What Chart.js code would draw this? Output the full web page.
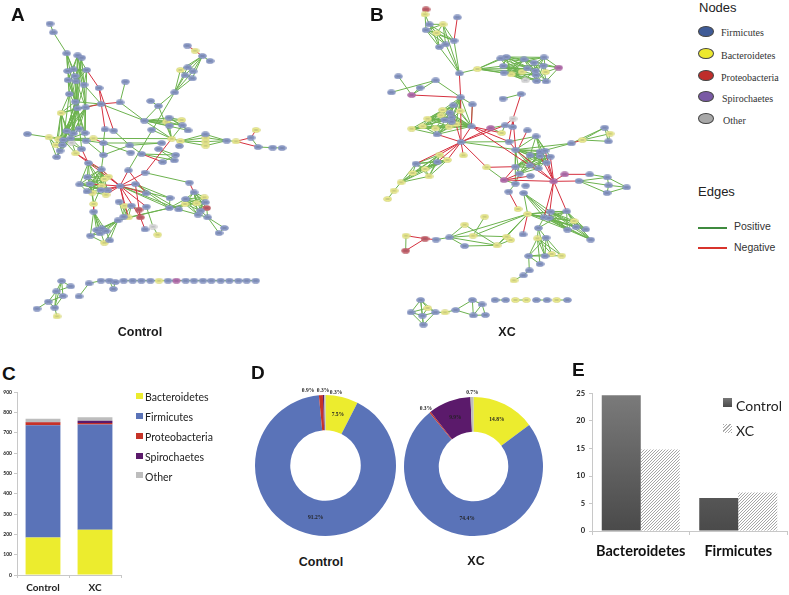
<!DOCTYPE html>
<html>
<head>
<meta charset="utf-8">
<title>Control vs XC</title>
<script src="https://cdn.jsdelivr.net/npm/chart.js@4"></script>
<style>
    html, body { margin: 0; padding: 0; background: #fff; overflow: hidden; }
    body { position: relative; width: 789px; height: 595px; }
    canvas, .txt, .sw { position: absolute; }
    .net { filter: blur(0.3px); }
    .txt { white-space: nowrap; color: #1a1a1a; line-height: 1; }
    .letter { font: bold 19px "Liberation Sans"; color: #111; }
    .title { font: bold 12.5px "Liberation Sans"; transform: translateX(-50%); }
    .head { font: 13px "Liberation Sans"; color: #222; }
    .serif { font: 10px "Liberation Serif"; color: #333; }
    .edge { font: 10.5px "Liberation Sans"; color: #333; }
    .leg { font: 10.5px Lato; color: #222; }
    .node { width: 16px; height: 11px; border-radius: 50%; border: 1px solid #444; box-sizing: border-box; }
</style>
</head>
<body>
<canvas class="net" id="net-a" width="300" height="345" style="left:0;top:0"></canvas>
<canvas class="net" id="net-b" width="280" height="345" style="left:370px;top:0"></canvas>
<canvas id="stack-chart" width="125" height="210" style="left:0;top:385px"></canvas>
<canvas id="donut-control" width="165" height="165" style="left:243px;top:383px"></canvas>
<canvas id="donut-xc" width="163" height="163" style="left:392px;top:385px"></canvas>
<canvas id="bar-chart" width="224" height="175" style="left:565px;top:385px"></canvas>

<div class="txt letter" style="left:11px;top:4px">A</div>
<div class="txt letter" style="left:370px;top:4px">B</div>
<div class="txt letter" style="left:2px;top:363px">C</div>
<div class="txt letter" style="left:251px;top:362px">D</div>
<div class="txt letter" style="left:572px;top:359px">E</div>
<div class="txt title" style="left:140px;top:325px">Control</div>
<div class="txt title" style="left:507px;top:325px">XC</div>
<div class="txt title" style="left:321px;top:555px">Control</div>
<div class="txt title" style="left:476px;top:554px">XC</div>

<div class="txt head" style="left:699px;top:0px">Nodes</div>
<div class="sw node" style="left:698px;top:26px;background:#3f5b97"></div>
<div class="txt serif" style="left:721px;top:27px">Firmicutes</div>
<div class="sw node" style="left:698px;top:48px;background:#ece82f"></div>
<div class="txt serif" style="left:721px;top:50px">Bacteroidetes</div>
<div class="sw node" style="left:698px;top:70px;background:#bf2e2b"></div>
<div class="txt serif" style="left:721px;top:72px">Proteobacteria</div>
<div class="sw node" style="left:698px;top:91px;background:#7a5aa5"></div>
<div class="txt serif" style="left:722px;top:93px">Spirochaetes</div>
<div class="sw node" style="left:698px;top:113px;background:#a8a8a8"></div>
<div class="txt serif" style="left:723px;top:115px">Other</div>
<div class="txt head" style="left:698px;top:184px">Edges</div>
<div class="sw" style="left:698px;top:227px;width:29px;height:1.5px;background:#3f8a3f"></div>
<div class="txt edge" style="left:734px;top:220px">Positive</div>
<div class="sw" style="left:698px;top:247px;width:29px;height:1.5px;background:#d8342c"></div>
<div class="txt edge" style="left:734px;top:241px">Negative</div>

<div class="sw" style="left:136px;top:393px;width:7px;height:6px;background:#ecec2e"></div>
<div class="txt leg" style="left:145px;top:391px">Bacteroidetes</div>
<div class="sw" style="left:136px;top:413px;width:7px;height:6px;background:#5a73b8"></div>
<div class="txt leg" style="left:145px;top:411px">Firmicutes</div>
<div class="sw" style="left:136px;top:433px;width:7px;height:6px;background:#c63328"></div>
<div class="txt leg" style="left:145px;top:431px">Proteobacteria</div>
<div class="sw" style="left:136px;top:453px;width:7px;height:6px;background:#5b1a6b"></div>
<div class="txt leg" style="left:145px;top:451px">Spirochaetes</div>
<div class="sw" style="left:136px;top:472px;width:7px;height:6px;background:#bdbdbd"></div>
<div class="txt leg" style="left:145px;top:471px">Other</div>

<div class="sw" style="left:723px;top:398px;width:9px;height:9px;background:linear-gradient(#777,#4a4a4a)"></div>
<div class="txt leg" style="left:736px;top:397px;font-size:14px">Control</div>
<div class="sw" style="left:723px;top:424px;width:9px;height:9px;background:repeating-linear-gradient(135deg,#aaa 0 1px,#fff 1px 2.4px)"></div>
<div class="txt leg" style="left:736px;top:422px;font-size:14px">XC</div>

<script>
// network A (values are x,y pairs on a 900 x 1035 grid)
const aFirmicutes = [150,71, 160,97, 200,160, 233,166, 245,173, 203,213, 220,208, 260,210, 225,228, 204,240, 228,244, 252,254, 297,264, 376,245, 208,282, 226,305, 303,312, 360,307, 232,325, 257,322, 452,303, 475,318, 562,137, 607,168, 630,183, 563,202, 579,214, 555,226, 577,235, 524,277, 433,362, 507,353, 508,377, 547,376, 564,391, 455,389, 315,388, 341,392, 237,386, 200,393, 220,400, 255,399, 82,402, 212,415, 190,420, 258,422, 187,435, 245,447, 180,452, 170,471, 310,429, 310,465, 389,436, 392,458, 425,462, 485,429, 476,447, 538,438, 527,465, 523,481, 488,486, 616,403, 680,422, 753,413, 774,441, 818,443, 846,444, 265,489, 304,508, 385,511, 435,518, 262,531, 239,553, 270,552, 261,574, 303,570, 323,571, 360,558, 406,552, 568,548, 582,577, 438,580, 510,594, 557,597, 508,624, 536,628, 357,605, 394,617, 439,620, 616,607, 602,632, 594,644, 623,652, 281,635, 354,661, 371,650, 435,688, 673,684, 657,699, 290,690, 305,685, 318,693, 300,700, 271,707, 329,721, 185,843, 212,859, 169,874, 189,888, 145,905, 164,923, 111,926, 267,850, 237,889, 303,842, 328,842, 346,846, 340,867, 371,842, 398,842, 424,842, 451,842, 504,842, 557,842, 582,842, 609,842, 634,842, 662,842, 688,842, 715,842, 740,842, 767,842];
const aBacteroidetes = [585,152, 541,210, 183,339, 499,365, 545,360, 147,412, 515,416, 541,423, 617,413, 617,425, 617,437, 708,424, 768,390, 280,415, 175,418, 168,435, 227,460, 325,530, 313,537, 305,557, 277,578, 318,584, 281,612, 373,617, 385,652, 613,592, 590,610, 555,612, 473,704, 313,728, 477,842, 171,949];
const aProteobacteria = [417,629, 421,652, 620,624];
const aSpirochaetes = [529,842];
const aOther = [459,680, 215,428];
// each row is a hub followed by the nodes it links to
const aPositive = [
    [150,71, 160,97], [160,97, 200,160],
    [232,325, 200,160, 233,166, 245,173, 203,213, 220,208, 225,228, 204,240, 228,244, 252,254, 208,282, 226,305, 183,339, 200,393, 220,400, 237,386, 255,399, 212,415, 190,420, 187,435, 258,422, 245,447, 180,452, 170,471, 168,435, 175,418],
    [257,322, 260,210, 233,166, 228,244, 252,254, 183,339, 200,393, 220,400, 212,415, 237,386, 190,420, 255,399],
    [226,305, 203,213, 204,240, 245,173, 183,339, 200,393, 220,400, 190,420, 187,435, 212,415],
    [208,282, 200,160, 204,240, 183,339, 190,420, 220,400],
    [183,339, 190,420, 200,393, 212,415, 175,418, 187,435, 168,435],
    [212,415, 147,412, 175,418, 168,435, 170,471, 180,452, 187,435, 227,460, 245,447, 200,393, 220,400, 255,399, 237,386, 258,422, 280,415, 190,420],
    [190,420, 147,412, 168,435, 170,471, 180,452, 227,460, 245,447, 258,422, 280,415],
    [147,412, 82,402, 168,435, 170,471, 180,452],
    [233,166, 220,208, 245,173, 228,244, 252,254, 204,240, 260,210],
    [245,173, 252,254, 228,244], [200,160, 220,208, 225,228, 203,213],
    [260,210, 228,244, 252,254, 220,208, 203,213],
    [303,312, 226,305, 232,325, 252,254, 433,362],
    [360,307, 376,245, 433,362],
    [315,388, 310,429], [341,392, 389,436], [310,429, 310,465, 392,458, 258,422, 485,429],
    [310,465, 304,508, 389,436, 258,422],
    [389,436, 425,462, 485,429], [425,462, 527,465, 523,481], [476,447, 527,465, 523,481], [488,486, 527,465],
    [280,415, 515,416],
    [524,277, 385,511, 475,318, 541,210, 563,202, 579,214, 555,226, 577,235],
    [452,303, 475,318], [475,318, 433,362, 515,416],
    [607,168, 541,210, 563,202, 579,214, 555,226, 577,235, 630,183],
    [541,210, 555,226, 577,235],
    [433,362, 507,353, 499,365, 545,360, 508,377, 547,376, 564,391],
    [507,353, 545,360, 547,376, 564,391, 508,377, 499,365],
    [499,365, 515,416, 508,377, 547,376],
    [515,416, 455,389, 433,362, 508,377, 547,376, 541,423],
    [547,376, 564,391],
    [541,423, 616,403, 617,413, 617,425, 617,437, 538,438],
    [680,422, 616,403, 617,413, 617,425, 617,437, 708,424],
    [753,413, 774,441], [774,441, 818,443], [818,443, 846,444],
    [435,518, 568,548],
    [360,558, 510,594, 508,624, 536,628],
    [406,552, 508,624, 536,628, 510,594],
    [439,620, 459,680], [459,680, 473,704], [510,594, 508,624],
    [508,624, 557,597, 555,612, 590,610, 354,661, 385,652],
    [265,489, 304,508, 262,531, 270,552, 239,553, 303,570, 323,571],
    [304,508, 262,531, 270,552, 239,553, 261,574, 303,570, 323,571, 277,578, 318,584, 325,530, 313,537, 305,557],
    [262,531, 303,570, 305,557, 313,537, 325,530, 277,578],
    [239,553, 305,557, 303,570, 261,574, 323,571, 313,537],
    [270,552, 318,584, 303,570, 313,537, 277,578, 281,612],
    [261,574, 318,584, 313,537, 305,557, 323,571],
    [281,612, 277,578, 305,557],
    [281,635, 271,707, 290,690, 300,700, 305,685, 318,693, 313,728],
    [354,661, 271,707, 290,690, 305,685, 300,700, 318,693, 313,728, 329,721],
    [271,707, 313,728, 300,700], [329,721, 313,728, 318,693], [290,690, 318,693], [305,685, 300,700],
    [582,577, 557,597, 555,612, 590,610, 613,592, 616,607, 602,632, 594,644, 620,624],
    [557,597, 613,592, 616,607, 590,610, 602,632, 594,644, 620,624, 555,612],
    [555,612, 613,592, 616,607, 594,644, 602,632, 590,610],
    [536,628, 555,612, 557,597, 594,644],
    [613,592, 602,632, 594,644, 590,610],
    [623,652, 594,644, 602,632, 657,699, 673,684, 620,624], [657,699, 673,684],
    [357,605, 373,617, 385,652, 371,650], [373,617, 385,652, 371,650], [394,617, 385,652, 371,650, 417,629],
    [185,843, 169,874, 189,888, 164,923, 212,859],
    [169,874, 145,905, 189,888, 164,923, 212,859],
    [145,905, 111,926, 189,888, 164,923], [164,923, 171,949, 189,888],
    [237,889, 267,850], [267,850, 303,842], [303,842, 328,842], [328,842, 346,846, 340,867], [346,846, 340,867],
    [398,842, 371,842, 424,842], [451,842, 424,842, 477,842], [504,842, 477,842, 529,842], [557,842, 529,842, 582,842],
    [609,842, 582,842, 634,842], [662,842, 634,842, 688,842], [715,842, 688,842, 740,842], [767,842, 740,842]
];
const aNegative = [
    [297,264, 260,210, 315,388, 341,392],
    [303,312, 257,322, 360,307],
    [585,152, 562,137, 607,168],
    [708,424, 753,413, 774,441], [753,413, 768,390],
    [435,518, 515,416, 360,558],
    [280,415, 310,429], [245,447, 265,489], [425,462, 488,486],
    [568,548, 582,577], [385,511, 360,558, 438,580],
    [227,460, 304,508, 360,558],
    [360,558, 304,508, 406,552, 438,580, 373,617, 385,652, 421,652, 439,620, 323,571, 303,570, 318,584, 325,530, 270,552],
    [421,652, 435,688, 417,629, 406,552],
    [281,612, 281,635]
];

// network B (x,y pairs on an 840 x 1035 grid)
const bFirmicutes = [262,52, 178,73, 168,90, 252,122, 227,133, 208,141, 268,220, 409,171, 392,175, 462,178, 522,172, 400,198, 492,188, 520,197, 472,205, 402,218, 496,212, 498,225, 528,244, 500,243, 85,229, 197,241, 150,263, 64,277, 272,292, 307,313, 250,316, 240,338, 245,352, 224,360, 245,365, 304,379, 201,403, 399,296, 453,282, 405,376, 428,381, 472,391, 498,409, 417,425, 437,449, 273,426, 604,430, 704,383, 715,424, 480,466, 510,455, 525,452, 510,468, 541,470, 530,488, 480,496, 505,505, 436,500, 448,521, 481,528, 467,557, 436,551, 416,575, 138,491, 202,486, 659,523, 712,532, 627,543, 716,556, 770,562, 711,579, 461,579, 542,635, 590,634, 522,652, 537,654, 505,684, 592,689, 618,681, 647,688, 662,719, 459,703, 528,713, 476,768, 525,768, 510,792, 478,811, 460,826, 198,719, 238,712, 284,738, 152,900, 123,937, 157,947, 196,937, 160,974, 257,930, 307,900, 336,913, 310,946, 346,945, 375,900, 407,900, 499,900, 531,900, 592,900];
const bBacteroidetes = [165,43, 219,73, 200,99, 322,207, 424,223, 456,215, 527,216, 218,330, 213,346, 270,333, 173,356, 158,379, 125,386, 196,385, 237,380, 258,372, 209,464, 280,466, 232,480, 165,507, 128,519, 177,529, 93,547, 72,572, 53,597, 350,502, 395,399, 637,420, 720,401, 444,627, 344,650, 473,642, 612,663, 284,674, 309,707, 108,707, 410,710, 422,720, 381,736, 502,715, 545,762, 575,767, 432,841, 173,924, 225,937, 436,900, 469,900, 560,900];
const bProteobacteria = [168,28, 165,716, 107,752];
const bSpirochaetes = [566,203, 125,285, 362,384, 402,540, 584,523, 551,544];
const bOther = [466,241, 429,356];
const bPositive = [
    [178,73, 165,43, 219,73, 200,99, 252,122, 227,133, 208,141],
    [168,90, 165,43, 219,73, 200,99, 227,133, 208,141, 252,122],
    [219,73, 252,122, 227,133, 200,99, 268,220],
    [268,220, 252,122, 208,141, 227,133, 322,207],
    [200,99, 227,133, 252,122, 208,141],
    [322,207, 392,175, 409,171, 400,198, 402,218, 424,223, 472,205, 456,215],
    [409,171, 462,178, 522,172, 492,188, 472,205, 424,223, 456,215, 496,212, 400,198],
    [462,178, 402,218, 424,223, 500,243, 528,244, 496,212, 522,172, 566,203],
    [522,172, 566,203, 400,198, 527,216, 466,241, 472,205, 498,225],
    [566,203, 520,197, 527,216, 528,244],
    [400,198, 496,212, 456,215, 498,225, 520,197, 466,241, 500,243],
    [402,218, 456,215, 472,205, 498,225, 466,241, 528,244],
    [392,175, 424,223, 456,215, 492,188, 472,205],
    [424,223, 466,241, 500,243, 498,225, 520,197],
    [500,243, 527,216, 520,197, 492,188], [528,244, 492,188, 520,197],
    [197,241, 125,285, 64,277, 272,292], [125,285, 85,229, 150,263],
    [272,292, 250,316, 240,338, 245,352, 245,365, 224,360, 304,379, 307,313, 258,372, 270,333, 218,330],
    [304,379, 250,316, 240,338, 245,352, 224,360, 245,365, 270,333, 218,330, 213,346, 258,372, 237,380, 201,403, 196,385, 173,356, 158,379, 125,386, 307,313],
    [250,316, 173,356, 158,379, 196,385, 213,346, 237,380, 201,403, 125,386],
    [173,356, 240,338, 245,352, 245,365, 224,360, 196,385, 237,380, 201,403, 158,379, 218,330],
    [125,386, 158,379, 196,385, 201,403, 224,360, 258,372, 237,380],
    [158,379, 201,403, 218,330, 240,338, 224,360],
    [201,403, 237,380, 258,372, 270,333, 245,365],
    [273,426, 437,449, 417,425],
    [362,384, 405,376, 395,399], [405,376, 395,399, 428,381], [399,296, 453,282],
    [437,449, 498,409, 604,430, 510,455, 525,452, 480,466, 510,468, 541,470, 480,496, 436,500, 448,521, 505,505, 530,488],
    [417,425, 498,409],
    [604,430, 510,455, 704,383], [637,420, 704,383, 720,401, 715,424], [704,383, 720,401, 715,424], [720,401, 715,424],
    [498,409, 510,455, 525,452, 541,470, 530,488, 480,466],
    [436,500, 480,466, 510,455, 525,452, 510,468, 541,470, 480,496, 505,505, 448,521],
    [448,521, 480,466, 510,468, 525,452, 480,496, 505,505, 541,470],
    [480,466, 541,470, 530,488, 525,452],
    [480,496, 510,455, 525,452, 541,470, 530,488, 505,505],
    [505,505, 510,455, 525,452, 541,470],
    [350,502, 402,540], [436,551, 402,540, 416,575, 436,500, 448,521],
    [627,543, 712,532, 716,556, 711,579], [659,523, 712,532], [712,532, 770,562, 716,556], [716,556, 770,562, 711,579], [711,579, 770,562],
    [209,464, 138,491, 165,507, 128,519, 177,529, 93,547, 202,486, 232,480],
    [138,491, 202,486, 165,507, 128,519, 177,529, 232,480, 93,547],
    [202,486, 93,547, 128,519, 165,507, 177,529, 232,480],
    [232,480, 177,529, 165,507, 128,519, 93,547],
    [93,547, 177,529, 72,572, 128,519], [72,572, 53,597], [165,507, 177,529, 128,519],
    [461,579, 522,652, 537,654, 542,635, 473,642, 592,689],
    [473,642, 522,652, 537,654, 542,635, 590,634, 592,689, 618,681, 612,663, 238,712, 309,707, 381,736, 410,710],
    [542,635, 590,634, 592,689, 618,681, 647,688, 662,719, 612,663],
    [590,634, 612,663, 618,681, 647,688, 592,689, 522,652, 537,654, 505,684, 662,719],
    [522,652, 592,689, 618,681, 662,719, 647,688, 505,684],
    [537,654, 618,681, 662,719, 592,689, 612,663],
    [612,663, 662,719, 647,688, 592,689], [618,681, 662,719, 647,688], [592,689, 662,719],
    [505,684, 502,715, 528,713, 525,768],
    [502,715, 476,768, 525,768, 545,762, 575,767, 510,792, 528,713],
    [528,713, 476,768, 525,768, 545,762, 575,767],
    [476,768, 545,762, 525,768, 478,811, 510,792], [525,768, 575,767, 545,762], [478,811, 460,826], [460,826, 432,841],
    [238,712, 198,719, 284,674, 284,738, 309,707, 381,736], [284,674, 381,736], [344,650, 309,707], [309,707, 410,710], [284,738, 381,736],
    [381,736, 410,710, 422,720], [422,720, 410,710], [108,707, 107,752],
    [152,900, 123,937, 157,947, 196,937, 173,924, 160,974],
    [123,937, 157,947, 160,974, 173,924], [157,947, 196,937, 160,974, 173,924], [196,937, 160,974, 173,924, 225,937], [225,937, 257,930],
    [257,930, 307,900, 310,946], [307,900, 336,913, 310,946], [336,913, 310,946, 346,945], [310,946, 346,945],
    [375,900, 407,900], [436,900, 469,900], [499,900, 531,900], [560,900, 592,900]
];
const bNegative = [
    [262,52, 252,122], [272,292, 125,285, 268,220, 273,426], [307,313, 304,379],
    [273,426, 304,379, 201,403, 280,466, 209,464, 232,480, 202,486, 138,491, 350,502, 250,345, 362,384, 405,376],
    [304,379, 551,544, 395,399, 417,425],
    [453,282, 429,356], [429,356, 428,381, 417,425, 437,449, 405,376], [472,391, 448,440],
    [551,544, 437,449, 584,523, 627,543, 530,488, 541,470, 522,652, 537,654, 590,634, 525,452, 510,468],
    [584,523, 659,523], [402,540, 551,544, 436,500, 448,521, 481,528], [350,502, 436,500], [416,575, 444,627],
    [473,642, 459,703], [168,28, 165,43], [165,716, 108,707, 107,752, 198,719], [604,430, 637,420], [417,425, 437,449]
];

// panel C
const stackCategories = ["Control", "XC"];
const stackBacteroidetes = [185, 222];
const stackFirmicutes = [552, 518];
const stackProteobacteria = [14, 8];
const stackSpirochaetes = [2, 10];
const stackOther = [15, 18];
const stackTicks = [0, 100, 200, 300, 400, 500, 600, 700, 800, 900];

// panel D
const donutControlValues = [7.5, 91.2, 0.9, 0.3, 0.3];
const donutXcValues = [14.8, 74.4, 0.3, 9.9, 0.7];
const donutControlLabels = ["7.5%", "91.2%", "0.9%", "0.3%", "0.3%"];
const donutXcLabels = ["14.8%", "74.4%", "0.3%", "9.9%", "0.7%"];

// panel E
const barCategories = ["Bacteroidetes", "Firmicutes"];
const barControl = [24.7, 6];
const barXc = [14.8, 7];

const phylumColors = ["#ecec2e", "#5a73b8", "#c63328", "#5b1a6b", "#bdbdbd"];

const toPoints = (flat) => {
    const points = [];
    for (let i = 0; i < flat.length; i += 2) {
        points.push({ x: flat[i], y: flat[i + 1] });
    }
    return points;
};

// hub + leaves rows into one line with gaps between the edges
const edgePoints = (rows) => {
    const points = [];
    rows.forEach((row) => {
        for (let i = 2; i < row.length; i += 2) {
            points.push({ x: row[0], y: row[1] }, { x: row[i], y: row[i + 1] }, { x: null, y: null });
        }
    });
    return points;
};

const nodeSprite = (fill, edge) => {
    const sprite = document.createElement("canvas");
    sprite.width = 9;
    sprite.height = 6;
    const ctx = sprite.getContext("2d");
    ctx.fillStyle = fill;
    ctx.strokeStyle = edge;
    ctx.lineWidth = 0.5;
    ctx.beginPath();
    ctx.ellipse(4.5, 3, 4, 2.6, 0, 0, Math.PI * 2);
    ctx.fill();
    ctx.stroke();
    ctx.fillStyle = "rgba(40, 50, 70, .35)";
    ctx.fillRect(2.5, 2.5, 4, 1);
    return sprite;
};

const createNetwork = (id, gridWidth, nodes, positive, negative) => {
    const nodeSet = (data, fill, edge) => ({
        data: toPoints(data),
        pointStyle: nodeSprite(fill, edge),
        pointRadius: 4,
        showLine: false,
        order: 0
    });
    new Chart(document.getElementById(id), {
        type: "scatter",
        data: {
            datasets: [
                nodeSet(nodes[0], "#8d9cc8", "#7886b2"),
                nodeSet(nodes[1], "#ecec8e", "#c9c97a"),
                nodeSet(nodes[2], "#c9616b", "#a85a60"),
                nodeSet(nodes[3], "#b871b0", "#9c6296"),
                nodeSet(nodes[4], "#dedede", "#bbbbbb"),
                {
                    data: edgePoints(negative),
                    showLine: true,
                    borderColor: "#d5303f",
                    borderWidth: 1,
                    pointRadius: 0,
                    order: 1
                },
                {
                    data: edgePoints(positive),
                    showLine: true,
                    borderColor: "#6cb24e",
                    borderWidth: 1,
                    pointRadius: 0,
                    order: 2
                }
            ]
        },
        options: {
            responsive: false,
            animation: false,
            layout: { padding: 0, autoPadding: false },
            plugins: { legend: { display: false }, tooltip: { enabled: false } },
            scales: {
                x: { display: false, min: 0, max: gridWidth },
                y: { display: false, min: 0, max: 1035, reverse: true }
            }
        }
    });
};

const createStackChart = () => {
    const stackSet = (label, data, color) => ({ label, data, backgroundColor: color, stack: "all" });
    new Chart(document.getElementById("stack-chart"), {
        type: "bar",
        data: {
            labels: stackCategories,
            datasets: [
                stackSet("Bacteroidetes", stackBacteroidetes, phylumColors[0]),
                stackSet("Firmicutes", stackFirmicutes, phylumColors[1]),
                stackSet("Proteobacteria", stackProteobacteria, phylumColors[2]),
                stackSet("Spirochaetes", stackSpirochaetes, phylumColors[3]),
                stackSet("Other", stackOther, phylumColors[4])
            ]
        },
        options: {
            responsive: false,
            animation: false,
            layout: { padding: { top: 7, right: 4 } },
            plugins: { legend: { display: false }, tooltip: { enabled: false } },
            datasets: { bar: { barPercentage: 1, categoryPercentage: 0.67 } },
            scales: {
                x: {
                    stacked: true,
                    afterFit: (scale) => { scale.height = 20; },
                    grid: { offset: true, drawOnChartArea: false, tickLength: 3, color: "#c8c8c8" },
                    border: { color: "#c8c8c8" },
                    ticks: { color: "#222", padding: 4, maxRotation: 0, font: { family: "Lato", weight: "bold", size: 10 } }
                },
                y: {
                    stacked: true,
                    min: 0,
                    max: 900,
                    afterFit: (scale) => { scale.width = 17; },
                    afterBuildTicks: (scale) => { scale.ticks = stackTicks.map((value) => ({ value })); },
                    grid: { drawOnChartArea: false, tickLength: 3, color: "#c8c8c8" },
                    border: { color: "#c8c8c8" },
                    ticks: { color: "#222", padding: 2, font: { family: "Lato", weight: "bold", size: 5 } }
                }
            }
        }
    });
};

const donutLabelPlugin = (labels, shifts) => ({
    id: "donutLabels",
    afterDatasetsDraw(chart) {
        const ctx = chart.ctx;
        ctx.save();
        ctx.font = "bold 5.5px 'Liberation Serif'";
        ctx.fillStyle = "#222";
        ctx.textAlign = "center";
        ctx.textBaseline = "middle";
        chart.getDatasetMeta(0).data.forEach((arc, i) => {
            const center = arc.getCenterPoint();
            ctx.fillText(labels[i], center.x + shifts[i][0], center.y + shifts[i][1]);
        });
        ctx.restore();
    }
});

const createDonut = (id, values, labels, shifts) => {
    new Chart(document.getElementById(id), {
        type: "doughnut",
        data: {
            labels,
            datasets: [{ data: values, backgroundColor: phylumColors, borderWidth: 0 }]
        },
        options: {
            responsive: false,
            animation: false,
            cutout: "50%",
            layout: { padding: 12 },
            plugins: { legend: { display: false }, tooltip: { enabled: false } }
        },
        plugins: [donutLabelPlugin(labels, shifts)]
    });
};

const createBarChart = () => {
    const canvas = document.getElementById("bar-chart");
    const ctx = canvas.getContext("2d");
    let gradient = ctx.createLinearGradient(0, 8, 0, 146);
    gradient.addColorStop(0, "#7b7b7b");
    gradient.addColorStop(1, "#4a4a4a");

    const tile = document.createElement("canvas");
    tile.width = 3;
    tile.height = 3;
    const tileCtx = tile.getContext("2d");
    tileCtx.fillStyle = "#fff";
    tileCtx.fillRect(0, 0, 3, 3);
    tileCtx.strokeStyle = "#a6a6a6";
    tileCtx.lineWidth = 1;
    tileCtx.beginPath();
    tileCtx.moveTo(-1, 4);
    tileCtx.lineTo(4, -1);
    tileCtx.moveTo(-1, 1);
    tileCtx.lineTo(1, -1);
    tileCtx.moveTo(2, 4);
    tileCtx.lineTo(4, 2);
    tileCtx.stroke();

    new Chart(canvas, {
        type: "bar",
        data: {
            labels: barCategories,
            datasets: [
                { label: "Control", data: barControl, backgroundColor: gradient },
                { label: "XC", data: barXc, backgroundColor: ctx.createPattern(tile, "repeat") }
            ]
        },
        options: {
            responsive: false,
            animation: false,
            layout: { padding: { top: 8, right: 2 } },
            plugins: { legend: { display: false }, tooltip: { enabled: false } },
            datasets: { bar: { barPercentage: 1, categoryPercentage: 0.8 } },
            scales: {
                x: {
                    afterFit: (scale) => { scale.height = 29; },
                    grid: { offset: true, drawOnChartArea: false, tickLength: 4, color: "#c8c8c8" },
                    border: { color: "#c8c8c8" },
                    ticks: { color: "#111", padding: 8, maxRotation: 0, font: { family: "Lato", weight: "bold", size: 14.5 } }
                },
                y: {
                    min: 0,
                    max: 25,
                    afterFit: (scale) => { scale.width = 27; },
                    grid: { drawOnChartArea: false, tickLength: 3, color: "#c8c8c8" },
                    border: { color: "#c8c8c8" },
                    ticks: { stepSize: 5, color: "#222", padding: 4, font: { family: "Lato", weight: "bold", size: 7.5 } }
                }
            }
        }
    });
};

createNetwork("net-a", 900, [aFirmicutes, aBacteroidetes, aProteobacteria, aSpirochaetes, aOther], aPositive, aNegative);
createNetwork("net-b", 840, [bFirmicutes, bBacteroidetes, bProteobacteria, bSpirochaetes, bOther], bPositive, bNegative);
createStackChart();
createDonut("donut-control", donutControlValues, donutControlLabels, [[0, 0], [0, 0], [-14, -22], [-1, -22.5], [11, -20.5]]);
createDonut("donut-xc", donutXcValues, donutXcLabels, [[0, 0], [0, 0], [-15, -17], [0, 0], [0, -22]]);
createBarChart();
</script>
</body>
</html>
